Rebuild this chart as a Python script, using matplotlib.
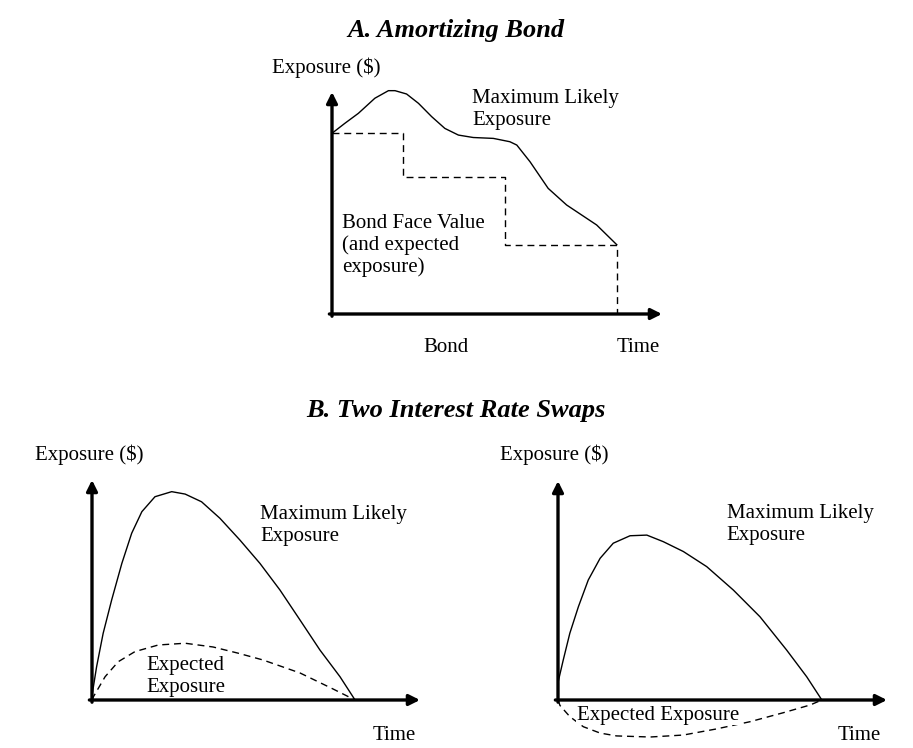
import matplotlib.pyplot as plt

plt.rcParams['font.family'] = ['Liberation Serif', 'DejaVu Serif']

# ---- data (time units 0..10, exposure units 0..10; 10 = end of axis arrow) ----
# A. amortizing bond: maximum likely exposure
bond_t = [0.0, 0.39, 0.80, 1.30, 1.71, 1.91, 2.26, 2.62, 3.02, 3.42, 3.83, 4.28, 4.89, 5.39,
          5.60, 6.00, 6.55, 7.11, 8.02, 8.63]
bond_max = [8.14, 8.59, 9.04, 9.72, 10.06, 10.06, 9.91, 9.49, 8.89, 8.36, 8.06, 7.95, 7.91, 7.76,
            7.61, 6.86, 5.66, 4.91, 4.01, 3.12]
# bond face value, stepping down at each repayment
face_t = [0.0, 2.15, 2.15, 5.24, 5.24, 8.63, 8.63]
face_v = [8.14, 8.14, 6.17, 6.17, 3.12, 3.12, 0.0]

# B. swap 1
sw1_t = [0.0, 0.01, 0.14, 0.34, 0.60, 0.91, 1.21, 1.52, 1.92, 2.43, 2.84, 3.34, 3.90, 4.51,
         5.12, 5.73, 6.34, 6.95, 7.56, 8.02]
sw1_max = [0.0, 0.30, 1.51, 3.03, 4.55, 6.21, 7.58, 8.56, 9.24, 9.47, 9.36, 9.01, 8.26, 7.27,
           6.21, 5.00, 3.64, 2.27, 1.06, 0.0]
sw1_et = [0.0, 0.04, 0.40, 0.80, 1.31, 2.02, 2.84, 3.69, 4.45, 5.21, 6.34, 7.35, 8.02]
sw1_exp = [0.0, 0.14, 1.06, 1.74, 2.20, 2.50, 2.58, 2.41, 2.13, 1.82, 1.23, 0.50, 0.0]

# B. swap 2
sw2_t = [0.0, 0.16, 0.36, 0.62, 0.92, 1.28, 1.68, 2.19, 2.70, 3.20, 3.81, 4.52, 5.33, 6.14,
         6.95, 7.56, 8.02]
sw2_max = [0.80, 1.83, 3.05, 4.26, 5.48, 6.47, 7.16, 7.50, 7.53, 7.23, 6.78, 6.09, 5.02, 3.80,
           2.28, 1.06, 0.0]
sw2_et = [0.0, 0.06, 0.36, 0.77, 1.28, 1.78, 2.80, 3.81, 4.82, 5.84, 6.85, 7.66, 8.02]
sw2_exp = [0.0, -0.25, -0.76, -1.22, -1.51, -1.64, -1.69, -1.60, -1.32, -0.99, -0.58, -0.23, 0.0]

W, H = 913, 748
fig = plt.figure(figsize=(W / 100, H / 100), dpi=100)


def px_axes(x0, x1, y_bottom, y_top):
    ax = fig.add_axes([x0 / W, (H - y_bottom) / H, (x1 - x0) / W, (y_bottom - y_top) / H])
    ax.set_xlim(0, 10)
    ax.set_ylim(0, 10)
    ax.axis('off')
    # axis arrows
    arr = dict(arrowstyle='-|>', lw=2.4, color='black', mutation_scale=16, shrinkA=0, shrinkB=0)
    ax.annotate('', xy=(10, 0), xytext=(-0.08, 0), arrowprops=arr, annotation_clip=False)
    ax.annotate('', xy=(0, 10), xytext=(0, -0.1), arrowprops=arr, annotation_clip=False)
    return ax


def ftext(x, y, s, **kw):
    fig.text(x / W, (H - y) / H, s, **kw)


dash = (0, (5, 3.5))
fs = 15
tfs = 19
ls = 1.18

# ---- panel A ----
axA = px_axes(332, 662, 314, 92)
axA.plot(bond_t, bond_max, color='black', lw=1.0, clip_on=False)
axA.plot(face_t, face_v, color='black', lw=1.0, ls=dash, clip_on=False)
axA.text(4.24, 10.12, 'Maximum Likely\nExposure', fontsize=fs, va='top', ha='left', linespacing=ls)
axA.text(0.30, 4.52, 'Bond Face Value\n(and expected\nexposure)', fontsize=fs, va='top', ha='left',
         linespacing=ls)

ftext(456, 30, 'A. Amortizing Bond', fontsize=tfs, fontweight='bold', fontstyle='italic',
      ha='center', va='center')
ftext(272, 68, 'Exposure ($)', fontsize=fs, ha='left', va='center')
ftext(446, 348, 'Bond', fontsize=fs, ha='center', va='center')
ftext(638, 348, 'Time', fontsize=fs, ha='center', va='center')

# ---- panel B ----
ftext(456, 411, 'B. Two Interest Rate Swaps', fontsize=tfs, fontweight='bold', fontstyle='italic',
      ha='center', va='center')

axB1 = px_axes(92, 420, 700, 480)
axB1.plot(sw1_t, sw1_max, color='black', lw=1.0, clip_on=False)
axB1.plot(sw1_et, sw1_exp, color='black', lw=1.0, ls=dash, clip_on=False)
axB1.text(5.12, 8.85, 'Maximum Likely\nExposure', fontsize=fs, va='top', ha='left', linespacing=ls)
axB1.text(1.67, 2.0, 'Expected\nExposure', fontsize=fs, va='top', ha='left', linespacing=ls)
ftext(35, 455, 'Exposure ($)', fontsize=fs, ha='left', va='center')
ftext(394, 736, 'Time', fontsize=fs, ha='center', va='center')

axB2 = px_axes(558, 887, 700, 481)
axB2.plot(sw2_t, sw2_max, color='black', lw=1.0, clip_on=False)
axB2.plot(sw2_et, sw2_exp, color='black', lw=1.0, ls=dash, clip_on=False)
axB2.text(5.13, 8.95, 'Maximum Likely\nExposure', fontsize=fs, va='top', ha='left', linespacing=ls)
axB2.text(0.58, -0.70, 'Expected Exposure', fontsize=fs, va='center', ha='left',
          bbox=dict(facecolor='white', edgecolor='none', pad=0.5))
ftext(500, 455, 'Exposure ($)', fontsize=fs, ha='left', va='center')
ftext(859, 736, 'Time', fontsize=fs, ha='center', va='center')

fig.savefig('out.png', dpi=100, facecolor='white')
